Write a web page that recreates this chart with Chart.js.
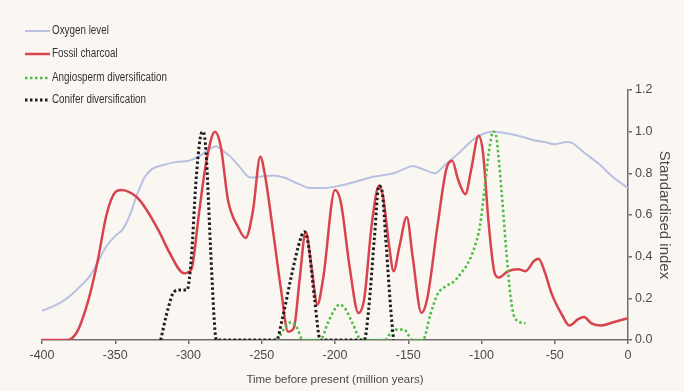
<!DOCTYPE html>
<html>
<head>
<meta charset="utf-8">
<script src="https://cdn.jsdelivr.net/npm/chart.js@4.4.1/dist/chart.umd.min.js"></script>
<style>
  html, body { margin: 0; padding: 0; background: #faf7f3; }
  #wrap { width: 684px; height: 391px; }
</style>
</head>
<body>
<div id="wrap"><canvas id="c" width="684" height="391"></canvas></div>
<script>
// ---- data ----
const oxygenTime  = [-400,-390,-383,-375,-367,-360,-356,-350,-345,-340,-335,-330,-325,-317,-308,-300,-292,-285,-281,-277,-272,-265,-258,-250,-242,-235,-225,-217,-207,-197,-186,-176,-168,-160,-153,-147,-140,-132,-125,-115,-106,-99,-92,-81,-72,-65,-57,-50,-42,-38,-30,-19,-10,0];
const oxygenLevel = [0.14,0.17,0.20,0.25,0.31,0.40,0.45,0.50,0.53,0.60,0.70,0.78,0.82,0.84,0.855,0.86,0.885,0.92,0.93,0.91,0.885,0.83,0.78,0.785,0.79,0.78,0.75,0.73,0.73,0.74,0.76,0.78,0.79,0.80,0.82,0.835,0.82,0.80,0.84,0.90,0.96,0.99,1.00,0.99,0.975,0.96,0.95,0.94,0.95,0.945,0.90,0.84,0.78,0.73];

const charcoalTime  = [-400,-383,-376,-368,-362,-356,-350,-346,-336,-330,-320,-313,-303,-298,-293,-288,-282,-278,-273,-266,-261,-256,-251,-248,-243,-237,-232,-228,-224,-220,-216,-212,-208,-200,-196,-190,-184,-180,-175,-170,-167,-163,-160,-156,-151,-147,-141,-137,-130,-124,-120,-116,-111,-107,-102,-99,-95,-91,-88,-82,-75,-70,-64,-61,-57,-52,-45,-40,-34,-30,-25,-18,-10,0];
const charcoalValue = [0,0,0.04,0.20,0.38,0.60,0.71,0.72,0.69,0.64,0.52,0.42,0.32,0.34,0.60,0.85,1.00,0.93,0.67,0.54,0.49,0.62,0.88,0.80,0.56,0.25,0.04,0.06,0.30,0.52,0.35,0.17,0.30,0.72,0.66,0.35,0.13,0.20,0.55,0.74,0.68,0.45,0.33,0.45,0.59,0.40,0.13,0.20,0.55,0.82,0.86,0.77,0.70,0.82,0.98,0.90,0.55,0.32,0.30,0.33,0.34,0.33,0.38,0.39,0.33,0.22,0.12,0.07,0.10,0.11,0.08,0.07,0.085,0.105];

const angioTime  = [-239,-235,-230,-226,-222,-210,-205,-200,-197,-193,-188,-182,-175,-166,-160,-153,-147,-140,-135,-130,-124,-119,-114,-110,-105,-101,-98,-95,-92,-90,-88,-85,-83,-80,-78,-75,-70];
const angioValue = [0,0.05,0.085,0.06,0,0,0.08,0.15,0.17,0.15,0.08,0,0,0,0.05,0.05,0,0,0.12,0.22,0.26,0.28,0.32,0.36,0.44,0.55,0.72,0.90,1.00,0.98,0.85,0.60,0.42,0.20,0.12,0.09,0.08];

const coniferTime  = [-319,-314,-310,-306,-301,-298,-295,-292,-290,-288,-285,-282,-281,-260,-240,-236,-230,-225,-221,-218,-214,-210,-195,-180,-177,-173,-170,-168,-165,-162,-160];
const coniferValue = [0,0.15,0.23,0.24,0.24,0.40,0.75,0.97,1.00,0.90,0.45,0.05,0,0,0,0.10,0.30,0.45,0.52,0.45,0.20,0,0,0,0.15,0.50,0.74,0.72,0.45,0.15,0];

const xTickValues = [-400,-350,-300,-250,-200,-150,-100,-50,0];
const yTickValues = [0,0.2,0.4,0.6,0.8,1.0,1.2];

const seriesNames = ['Oxygen level','Fossil charcoal','Angiosperm diversification','Conifer diversification'];
const xTitle = 'Time before present (million years)';
const yTitle = 'Standardised index';

// ---- styling ----
const BG = '#faf7f3';
const AXIS = '#6e6e6e';
const TEXT = '#4a4a4a';
const REG = '"Liberation Sans", Arial, sans-serif';

const pts = (xs, ys) => xs.map((x, i) => ({x: x, y: ys[i]}));

const styles = {
  oxygen:   {color: '#b8c1e2', width: 2,   dash: []},
  charcoal: {color: '#d8434d', width: 2.5, dash: []},
  angio:    {color: '#4fbe45', width: 2.6, dash: [2.5, 2.5]},
  conifer:  {color: '#1e1e1e', width: 3,   dash: [2.5, 2.5]}
};

function ds(label, data, st) {
  return {
    label: label, data: data,
    borderColor: st.color, borderWidth: st.width, borderDash: st.dash,
    borderCapStyle: 'butt',
    pointRadius: 0, fill: false,
    cubicInterpolationMode: 'monotone'
  };
}

const bgPlugin = {
  id: 'bg',
  beforeDraw(chart) {
    const ctx = chart.ctx;
    ctx.save();
    ctx.fillStyle = BG;
    ctx.fillRect(0, 0, chart.width, chart.height);
    ctx.restore();
  }
};

const legendPlugin = {
  id: 'customLegend',
  afterDraw(chart) {
    const ctx = chart.ctx;
    const items = [
      [seriesNames[0], styles.oxygen, 31],
      [seriesNames[1], styles.charcoal, 54],
      [seriesNames[2], styles.angio, 78],
      [seriesNames[3], styles.conifer, 100]
    ];
    ctx.save();
    items.forEach(([name, st, y]) => {
      ctx.beginPath();
      ctx.strokeStyle = st.color;
      ctx.lineWidth = st.width;
      ctx.setLineDash(st.dash);
      ctx.lineCap = 'butt';
      ctx.moveTo(25, y);
      ctx.lineTo(50, y);
      ctx.stroke();
      ctx.setLineDash([]);
      ctx.save();
      ctx.translate(52, y);
      ctx.scale(0.82, 1);
      ctx.fillStyle = '#333';
      ctx.font = '12px ' + REG;
      ctx.textBaseline = 'middle';
      ctx.textAlign = 'left';
      ctx.fillText(name, 0, 0);
      ctx.restore();
    });
    ctx.restore();
  }
};

new Chart(document.getElementById('c'), {
  type: 'line',
  data: {
    datasets: [
      ds(seriesNames[3], pts(coniferTime, coniferValue), styles.conifer),
      ds(seriesNames[2], pts(angioTime, angioValue), styles.angio),
      ds(seriesNames[1], pts(charcoalTime, charcoalValue), styles.charcoal),
      ds(seriesNames[0], pts(oxygenTime, oxygenLevel), styles.oxygen)
    ]
  },
  options: {
    responsive: false,
    animation: false,
    devicePixelRatio: 1,
    layout: { padding: { left: 42, top: 90, right: 0, bottom: 0 } },
    plugins: { legend: { display: false }, tooltip: { enabled: false } },
    scales: {
      x: {
        type: 'linear', min: -400, max: 0,
        afterBuildTicks: s => { s.ticks = xTickValues.map(v => ({value: v})); },
        afterFit: s => { s.height = 51; },
        ticks: { color: TEXT, font: { family: REG, size: 12.5 }, padding: 4, maxRotation: 0,
                 callback: v => String(v) },
        grid: { drawOnChartArea: false, tickLength: 4, color: AXIS, lineWidth: 1.5 },
        border: { color: AXIS, width: 1.5 },
        title: { display: true, text: xTitle, color: TEXT, font: { family: REG, size: 11.5 }, padding: { top: 2, bottom: 4 } }
      },
      y: {
        position: 'right', min: 0, max: 1.2,
        afterBuildTicks: s => { s.ticks = yTickValues.map(v => ({value: v})); },
        afterFit: s => { s.width = 56; },
        ticks: { color: TEXT, font: { family: REG, size: 12.5 }, padding: 3,
                 callback: v => Number(v).toFixed(1) },
        grid: { drawOnChartArea: false, tickLength: 4, color: AXIS, lineWidth: 1.5 },
        border: { color: AXIS, width: 1.5 },
        title: { display: true, text: yTitle, color: TEXT, font: { family: REG, size: 15 }, padding: { top: 11, bottom: 0 } }
      }
    }
  },
  plugins: [bgPlugin, legendPlugin]
});
</script>
</body>
</html>
